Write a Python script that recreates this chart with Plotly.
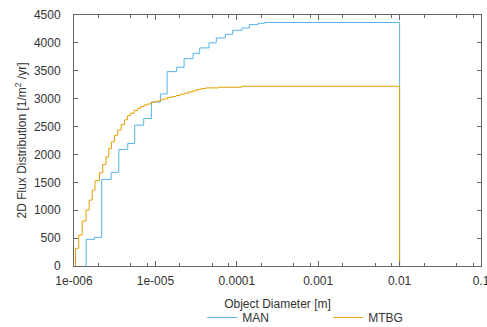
import plotly.graph_objects as go

# ---- data ----
man_diam = [1.41e-6, 1.785e-6, 2.19e-6, 2.86e-6, 3.55e-6, 4.57e-6, 5.57e-6, 7.18e-6,
            8.93e-6, 1.152e-5, 1.392e-5, 1.825e-5, 2.25e-5, 2.90e-5, 3.50e-5, 4.56e-5,
            5.60e-5, 7.23e-5, 8.88e-5, 1.158e-4, 1.423e-4, 1.82e-4, 2.19e-4]
man_flux = [478, 514, 1552, 1677, 2090, 2197, 2525, 2645,
            2940, 3085, 3485, 3563, 3717, 3813, 3910, 4002,
            4088, 4154, 4226, 4267, 4328, 4351, 4365]

mtbg_diam = [1.043e-6, 1.145e-6, 1.261e-6, 1.404e-6, 1.537e-6, 1.673e-6, 1.810e-6, 2.055e-6,
             2.256e-6, 2.470e-6, 2.673e-6, 2.885e-6, 3.141e-6, 3.446e-6, 3.795e-6, 4.165e-6,
             4.533e-6, 4.976e-6, 5.480e-6, 6.065e-6, 6.600e-6, 7.266e-6, 8.043e-6, 8.857e-6,
             9.915e-6, 1.142e-5, 1.254e-5, 1.404e-5, 1.585e-5, 1.795e-5, 2.010e-5, 2.269e-5,
             2.540e-5, 2.870e-5, 3.212e-5, 3.636e-5, 4.141e-5, 5.929e-5, 1.145e-4]
mtbg_flux = [317, 555, 806, 1003, 1182, 1361, 1531, 1671,
             1821, 1957, 2107, 2226, 2342, 2435, 2534, 2620,
             2695, 2740, 2788, 2829, 2859, 2888, 2906, 2936,
             2954, 2978, 2996, 3021, 3039, 3056, 3080, 3098,
             3121, 3139, 3164, 3182, 3193, 3205, 3222]

max_diam = 0.01

x_tickvals = [1e-6, 1e-5, 1e-4, 1e-3, 1e-2, 1e-1]
x_ticktext = ["1e-006", "1e-005", "0.0001", "0.001", "0.01", "0.1"]
x_minor = [m * 10.0 ** e for e in range(-6, -1) for m in (2, 5, 8)]
y_tickvals = list(range(0, 4501, 500))

series = [("MAN", man_diam, man_flux, "#56B4E9"),
          ("MTBG", mtbg_diam, mtbg_flux, "#E69F00")]

fig = go.Figure()
for name, d, f, col in series:
    xs = [d[0]] + d + [max_diam, max_diam]
    ys = [0] + f + [f[-1], 0]
    fig.add_trace(go.Scatter(x=xs, y=ys, mode="lines", name=name,
                             line=dict(color=col, width=1, shape="hv")))

axis_col = "#666666"
font = dict(family="Liberation Sans, Arial, sans-serif", size=12, color="#333333")

fig.update_layout(
    width=487, height=327,
    margin=dict(l=74, r=6, t=15, b=61, autoexpand=False),
    paper_bgcolor="white", plot_bgcolor="white",
    font=font,
    showlegend=True,
    legend=dict(orientation="h", x=0.315, xanchor="left", y=-0.205, yanchor="middle",
                font=font, bgcolor="rgba(0,0,0,0)", tracegroupgap=0,
                entrywidth=81, entrywidthmode="pixels"),
    xaxis=dict(type="log", range=[-6, -1], tickmode="array", tickvals=x_tickvals,
               ticktext=x_ticktext, ticks="inside", ticklen=5, tickcolor=axis_col,
               showline=True, linecolor=axis_col, linewidth=1, mirror="ticks",
               showgrid=False, zeroline=False, automargin=False, ticklabelstandoff=4,
               ticklabeloverflow="allow",
               minor=dict(tickmode="array", tickvals=x_minor, ticks="inside", ticklen=3,
                          tickcolor=axis_col, showgrid=False),
               title=dict(text="Object Diameter [m]", standoff=12, font=font)),
    yaxis=dict(range=[0, 4500], tickmode="array", tickvals=y_tickvals,
               ticks="inside", ticklen=4, tickcolor=axis_col,
               showline=True, linecolor=axis_col, linewidth=1, mirror="ticks",
               showgrid=False, zeroline=False, automargin=False, ticklabelstandoff=10,
               title=dict(text="2D Flux Distribution [1/m<sup>2</sup> /yr]", standoff=4, font=font)),
)

fig.write_html("out.html", config={"displayModeBar": False},
               post_script="document.body.style.margin='0';document.body.style.overflow='hidden';")
